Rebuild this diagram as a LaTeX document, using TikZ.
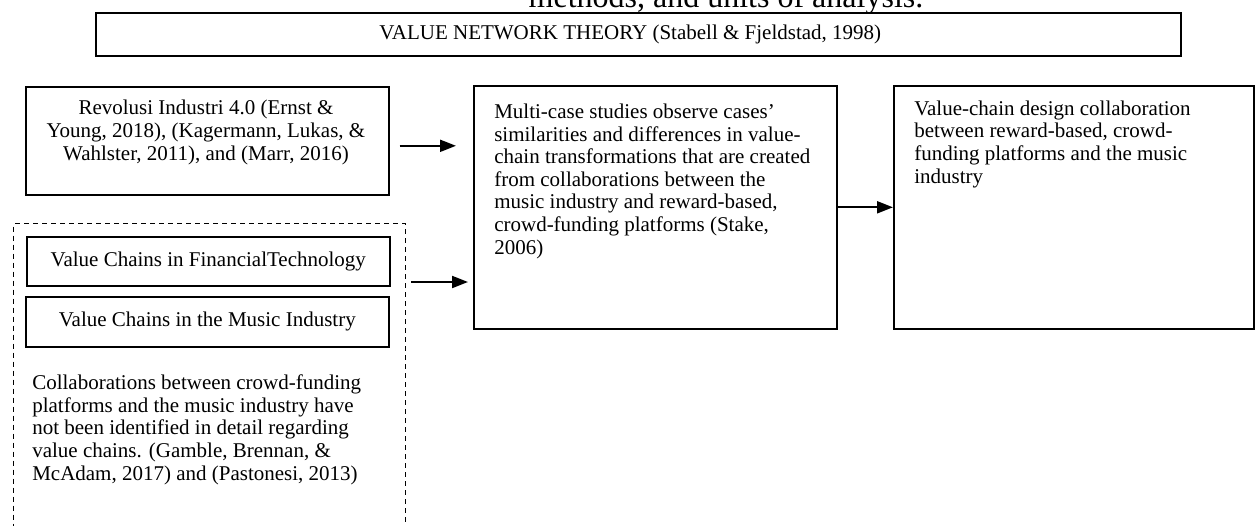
\documentclass[tikz,border=0pt]{standalone}
\usepackage{fontspec}
\setmainfont{Liberation Serif}
\usetikzlibrary{positioning,arrows.meta,calc}

\begin{document}
\begin{tikzpicture}[x=0.75pt,y=-0.75pt,
    every node/.style={inner sep=0pt},
    boxsize/.style 2 args={minimum width=#1*0.75pt,minimum height=#2*0.75pt},
    box/.style={draw,line width=1.2pt,anchor=north west,font=\fontsize{15.75}{16.9}\selectfont},
    dashbox/.style={draw,dash pattern=on 3.75pt off 3pt,line width=1pt,anchor=north west},
    txt/.style={font=\fontsize{15.75}{16.9}\selectfont,align=left,anchor=base west},
    arr/.style={line width=1.5pt,-{Triangle[length=12pt,width=9pt]}}
    ]
    \useasboundingbox (0,0) rectangle (1255,525);
    \clip (0,0) rectangle (1255,525);

    % the caption line, cut off at the top
    \node[font=\fontsize{24}{26}\selectfont,anchor=base] (caption) at (726,7) {methods, and units of analysis.};

    % the theory
    \node[box,boxsize={1085}{43}] (theory) at (95,12) {\hspace*{-12pt}VALUE NETWORK THEORY (Stabell \& Fjeldstad, 1998)};

    % the left column
    \node[box,boxsize={363}{108}] (revol) at (25,86) {};
    \node[txt,align=center,anchor=base] (revoltxt) at (206,160)
        {Revolusi Industri 4.0 (Ernst \&\\ Young, 2018), (Kagermann, Lukas, \&\\ Wahlster, 2011), and (Marr, 2016)};

    \node[dashbox,boxsize={392}{320}] (gap) at (13,223) {};
    \node[box,boxsize={363}{49}] (fintech) at (26,236) {Value Chains in FinancialTechnology};
    \node[box,boxsize={363}{50}] (music) at (25,296) {Value Chains in the Music Industry};
    \node[txt] (gaptxt) at (32,480)
        {Collaborations between crowd-funding\\ platforms and the music industry have\\ not been identified in detail regarding\\ value chains. (Gamble, Brennan, \&\\ McAdam, 2017) and (Pastonesi, 2013)};

    % the method
    \node[box,boxsize={363}{243}] (method) at (473,85) {};
    \node[txt] (methodtxt) at (494,254)
        {Multi-case studies observe cases’\\ similarities and differences in value-\\ chain transformations that are created\\ from collaborations between the\\ music industry and reward-based,\\ crowd-funding platforms (Stake,\\ 2006)};

    % the outcome
    \node[box,boxsize={360}{243}] (design) at (893,85) {};
    \node[txt] (designtxt) at (914,183)
        {Value-chain design collaboration\\ between reward-based, crowd-\\ funding platforms and the music\\ industry};

    % the arrows
    \coordinate (gapout) at (405,282);
    \draw[arr,shorten <=7.5pt,shorten >=12.75pt] ([yshift=-3.75pt]revol.east) -- ([yshift=-3.75pt]revol.east -| method.west);
    \draw[arr,shorten <=4.5pt,shorten >=3.75pt] (gapout) -- (gapout -| method.west);
    \draw[arr] (method.east) -- (design.west);

\end{tikzpicture}
\end{document}
